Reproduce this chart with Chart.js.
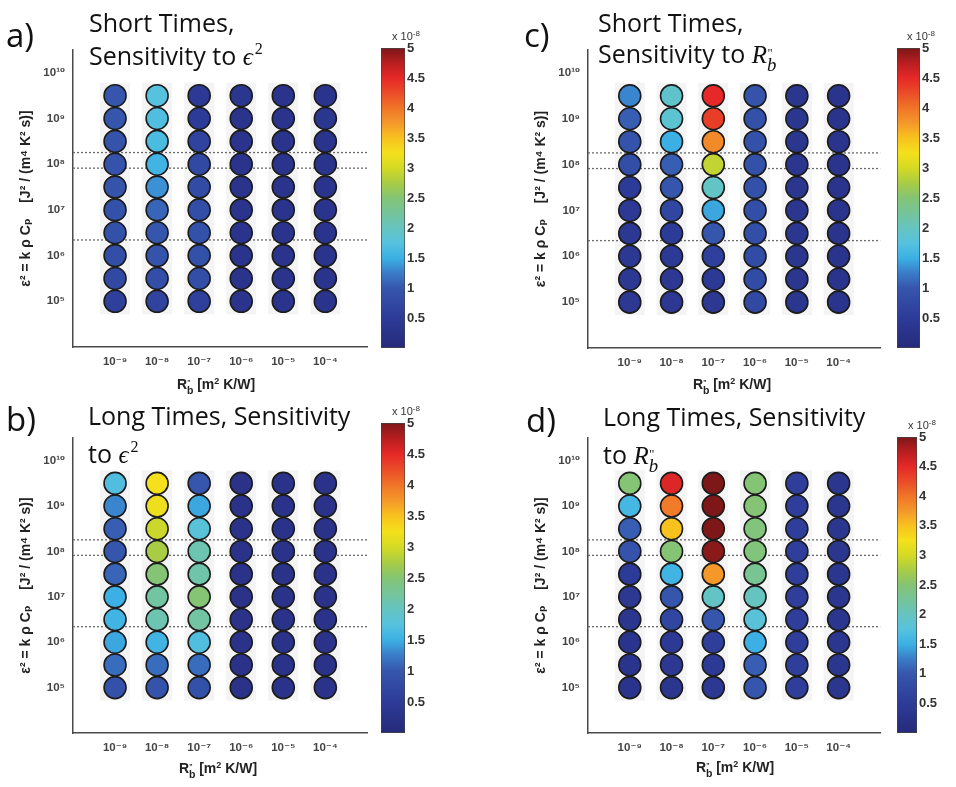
<!DOCTYPE html>
<html>
<head>
<meta charset="utf-8">
<title>Sensitivity maps</title>
<script src="https://cdn.jsdelivr.net/npm/chart.js@4.4.1/dist/chart.umd.min.js"></script>
<style>
  body { margin: 0; background: #fff; }
  #fig { position: relative; width: 956px; height: 787px; overflow: hidden; background: #fff; }
  canvas { position: absolute; }
  .tag { position: absolute; font-family: "Open Sans", sans-serif; font-size: 33px; line-height: 33px; color: #111; }
  .head { position: absolute; font-family: "Open Sans", sans-serif; font-size: 25px; line-height: 25px; color: #111; white-space: nowrap; }
  .m { font-family: "Liberation Serif", "DejaVu Serif", serif; font-style: italic; }
  .sq { font-family: "Liberation Serif", serif; font-size: 16px; position: relative; top: -11px; margin-left: 2px; }
  .rb { display: inline-block; position: relative; width: 0.45em; height: 0.8em; }
  .rb .p { position: absolute; left: 0.05em; top: -0.2em; font-size: 0.5em; font-style: normal; }
  .rb .b { position: absolute; left: 0; top: 0.5em; font-size: 0.75em; }
  .xt { position: absolute; font-family: "Liberation Sans", Arial, sans-serif; font-weight: bold; font-size: 14px; line-height: 14px; color: #222; white-space: nowrap; transform: translateX(-50%); }
  .xt sup { font-size: 9px; vertical-align: 5px; line-height: 0; }
  .mult { position: absolute; font-family: "Liberation Sans", Arial, sans-serif; font-size: 11px; line-height: 11px; color: #333; white-space: nowrap; }
  .mult sup { font-size: 8px; vertical-align: 4px; line-height: 0; }
</style>
</head>
<body>
<div id="fig">
  <canvas id="pa"></canvas>
  <canvas id="pb"></canvas>
  <canvas id="pc"></canvas>
  <canvas id="pd"></canvas>
  <canvas id="cba"></canvas>
  <canvas id="cbb"></canvas>
  <canvas id="cbc"></canvas>
  <canvas id="cbd"></canvas>

  <div class="tag" style="left:6px;top:18px">a)</div>
  <div class="head" style="left:89px;top:10px">Short Times,</div>
  <div class="head" style="left:89px;top:43px">Sensitivity to <span class="m">ϵ</span><span class="sq">2</span></div>

  <div class="tag" style="left:524px;top:18px">c)</div>
  <div class="head" style="left:598px;top:10px">Short Times,</div>
  <div class="head" style="left:598px;top:41px">Sensitivity to <span class="m">R</span><span class="rb m"><span class="p">"</span><span class="b">b</span></span></div>

  <div class="tag" style="left:6px;top:402px">b)</div>
  <div class="head" style="left:88px;top:403px">Long Times, Sensitivity</div>
  <div class="head" style="left:88px;top:441px">to <span class="m">ϵ</span><span class="sq">2</span></div>

  <div class="tag" style="left:526px;top:403px">d)</div>
  <div class="head" style="left:603px;top:404px">Long Times, Sensitivity</div>
  <div class="head" style="left:603px;top:442px">to <span class="m">R</span><span class="rb m"><span class="p">"</span><span class="b">b</span></span></div>

  <div class="xt" style="left:216px;top:377px">R<span class="rb"><span class="p">"</span><span class="b">b</span></span> [m<sup>2</sup> K/W]</div>
  <div class="xt" style="left:732px;top:377px">R<span class="rb"><span class="p">"</span><span class="b">b</span></span> [m<sup>2</sup> K/W]</div>
  <div class="xt" style="left:218px;top:761px">R<span class="rb"><span class="p">"</span><span class="b">b</span></span> [m<sup>2</sup> K/W]</div>
  <div class="xt" style="left:735px;top:760px">R<span class="rb"><span class="p">"</span><span class="b">b</span></span> [m<sup>2</sup> K/W]</div>

  <div class="mult" style="left:392px;top:31px">x 10<sup>-8</sup></div>
  <div class="mult" style="left:907px;top:31px">x 10<sup>-8</sup></div>
  <div class="mult" style="left:392px;top:406px">x 10<sup>-8</sup></div>
  <div class="mult" style="left:908px;top:420px">x 10<sup>-8</sup></div>
</div>

<script>
// grid of the parameter study
const resistances = [1e-9, 1e-8, 1e-7, 1e-6, 1e-5, 1e-4];
const effusivities = [1e5, 3.16e5, 1e6, 3.16e6, 1e7, 3.16e7, 1e8, 3.16e8, 1e9, 3.16e9];
const xRange = [1e-10, 1e-3];
const yRange = [1e4, 3.16e10];
const xTicks = [1e-9, 1e-8, 1e-7, 1e-6, 1e-5, 1e-4];
const yTicks = [1e5, 1e6, 1e7, 1e8, 1e9, 1e10];
const barTicks = [0.5, 1, 1.5, 2, 2.5, 3, 3.5, 4, 4.5, 5];
const dottedLevels = [2.2e6, 8.2e7, 1.8e8];

// sensitivity (x 1e-8), one list per R_b column, from eps^2 = 1e5 upwards
const shortEps = [
  [0.6, 0.75, 0.85, 0.9, 0.9, 0.95, 0.95, 0.95, 1.0, 1.0],
  [0.65, 0.85, 0.95, 1.0, 1.1, 1.35, 1.55, 1.65, 1.7, 1.75],
  [0.6, 0.85, 0.9, 0.9, 0.85, 0.8, 0.75, 0.65, 0.5, 0.45],
  [0.3, 0.3, 0.3, 0.3, 0.3, 0.3, 0.3, 0.3, 0.3, 0.35],
  [0.3, 0.3, 0.3, 0.3, 0.3, 0.3, 0.3, 0.3, 0.3, 0.3],
  [0.3, 0.3, 0.3, 0.3, 0.3, 0.3, 0.3, 0.3, 0.35, 0.3]
];
const longEps = [
  [0.9, 1.15, 1.45, 1.55, 1.5, 1.1, 1.0, 1.05, 1.3, 1.7],
  [0.95, 1.15, 1.55, 2.1, 2.2, 2.5, 2.75, 2.95, 3.2, 3.25],
  [0.9, 1.15, 1.7, 2.2, 2.5, 2.15, 2.1, 1.8, 1.45, 1.0],
  [0.25, 0.25, 0.25, 0.25, 0.25, 0.25, 0.25, 0.25, 0.25, 0.25],
  [0.25, 0.25, 0.25, 0.25, 0.25, 0.25, 0.25, 0.25, 0.25, 0.25],
  [0.25, 0.25, 0.25, 0.25, 0.25, 0.25, 0.25, 0.25, 0.25, 0.25]
];
const shortRb = [
  [0.4, 0.4, 0.4, 0.4, 0.45, 0.5, 0.85, 0.95, 1.05, 1.3],
  [0.4, 0.4, 0.45, 0.5, 0.7, 1.0, 1.05, 1.5, 1.85, 1.9],
  [0.4, 0.45, 0.6, 1.0, 1.45, 1.95, 2.9, 3.85, 4.35, 4.5],
  [0.75, 0.8, 0.8, 0.85, 0.85, 0.9, 0.9, 0.9, 0.9, 0.95],
  [0.35, 0.35, 0.35, 0.35, 0.35, 0.35, 0.35, 0.35, 0.35, 0.35],
  [0.3, 0.3, 0.3, 0.3, 0.3, 0.3, 0.3, 0.3, 0.3, 0.3]
];
const longRb = [
  [0.3, 0.3, 0.3, 0.35, 0.4, 0.5, 0.95, 1.05, 1.6, 2.5],
  [0.35, 0.4, 0.45, 0.7, 1.0, 1.55, 2.5, 3.5, 3.95, 4.55],
  [0.4, 0.45, 0.55, 1.0, 1.95, 3.75, 4.95, 5.0, 5.0, 5.0],
  [1.0, 1.05, 1.5, 1.8, 2.0, 2.3, 2.45, 2.45, 2.5, 2.5],
  [0.55, 0.55, 0.55, 0.55, 0.55, 0.55, 0.55, 0.55, 0.55, 0.55],
  [0.35, 0.35, 0.35, 0.35, 0.35, 0.35, 0.35, 0.35, 0.35, 0.35]
];

const yTitle = 'ε² = k ρ Cₚ    [J² / (m⁴ K² s)]';

// washed-out jet, as it looks in the printed colorbar
const cmap = [
  [0, '#262a7a'], [0.5, '#2d3b98'], [1.0, '#3656ad'], [1.25, '#3a7cc8'],
  [1.5, '#3cb0e4'], [1.75, '#56c2de'], [2.0, '#66c4c0'], [2.5, '#84c474'],
  [2.75, '#a8cc44'], [3.0, '#d4da24'], [3.25, '#f4e01c'], [3.5, '#f8c21e'],
  [3.75, '#f4982a'], [4.0, '#f07428'], [4.25, '#ea4c28'], [4.5, '#e62828'],
  [4.75, '#b81e20'], [5.0, '#7e1818']
];

function hexRgb(h) {
  return [1, 3, 5].map(i => parseInt(h.substr(i, 2), 16));
}

function sensColor(v) {
  v = Math.max(0, Math.min(5, v));
  for (let i = 1; i < cmap.length; i++) {
    if (v <= cmap[i][0]) {
      const t = (v - cmap[i - 1][0]) / (cmap[i][0] - cmap[i - 1][0]);
      const a = hexRgb(cmap[i - 1][1]), b = hexRgb(cmap[i][1]);
      const c = a.map((x, k) => Math.round(x + (b[k] - x) * t));
      return `rgb(${c[0]},${c[1]},${c[2]})`;
    }
  }
  return cmap[cmap.length - 1][1];
}

const supMap = { '-': '⁻', '0': '⁰', '1': '¹', '2': '²', '3': '³', '4': '⁴', '5': '⁵', '6': '⁶', '7': '⁷', '8': '⁸', '9': '⁹' };
function powerLabel(v) {
  const e = String(Math.round(Math.log10(v)));
  return '10' + e.split('').map(c => supMap[c]).join('');
}

const tickFont = { family: 'Liberation Sans, DejaVu Sans, sans-serif', size: 11.5, weight: 'bold' };

// faint grey strips behind each column of circles
const columnStrips = {
  id: 'columnStrips',
  beforeDatasetsDraw(chart) {
    const { ctx, scales: { x, y } } = chart;
    const top = y.getPixelForValue(effusivities[effusivities.length - 1]) - 13;
    const bottom = y.getPixelForValue(effusivities[0]) + 13;
    ctx.save();
    ctx.fillStyle = '#f4f4f4';
    resistances.forEach(r => {
      const cx = x.getPixelForValue(r);
      ctx.fillRect(cx - 15, top, 30, bottom - top);
    });
    ctx.restore();
  }
};

function placeCanvas(id, left, top, w, h) {
  const c = document.getElementById(id);
  c.width = w;
  c.height = h;
  c.style.left = left + 'px';
  c.style.top = top + 'px';
  return c;
}

function drawPanel(p) {
  const canvas = placeCanvas(p.id, p.left, p.top, p.w, p.h);
  const points = [];
  const colors = [];
  p.sens.forEach((col, i) => {
    col.forEach((v, j) => {
      points.push({ x: resistances[i], y: effusivities[j] });
      colors.push(sensColor(v));
    });
  });

  const datasets = [{
    type: 'scatter',
    data: points,
    backgroundColor: colors,
    borderColor: '#1c1c1c',
    borderWidth: 1.6,
    pointRadius: 11,
    pointHoverRadius: 11,
    order: 0
  }];
  dottedLevels.forEach(level => {
    datasets.push({
      type: 'line',
      data: [{ x: xRange[0], y: level }, { x: xRange[1], y: level }],
      borderColor: '#6a6a6a',
      borderWidth: 1.3,
      borderDash: [2, 2],
      pointRadius: 0,
      fill: false,
      order: 1
    });
  });

  new Chart(canvas, {
    type: 'scatter',
    data: { datasets },
    plugins: [columnStrips],
    options: {
      responsive: false,
      animation: false,
      layout: { padding: { left: 0, top: p.padTop, right: 3, bottom: 0 } },
      plugins: { legend: { display: false }, tooltip: { enabled: false } },
      scales: {
        x: {
          type: 'logarithmic',
          min: xRange[0],
          max: xRange[1],
          afterBuildTicks: s => { s.ticks = xTicks.map(v => ({ value: v })); },
          afterFit: s => { s.height = p.xH; },
          grid: { display: false, drawTicks: false },
          border: { display: true, color: '#4a4a4a', width: 1.5 },
          ticks: { callback: powerLabel, padding: 8, autoSkip: false, maxRotation: 0, color: '#444', font: tickFont }
        },
        y: {
          type: 'logarithmic',
          min: yRange[0],
          max: yRange[1],
          afterBuildTicks: s => { s.ticks = yTicks.map(v => ({ value: v })); },
          afterFit: s => { s.width = 73; },
          grid: { display: false, drawTicks: false },
          border: { display: true, color: '#4a4a4a', width: 1.5 },
          ticks: { callback: powerLabel, padding: 8, autoSkip: false, color: '#444', font: tickFont },
          title: {
            display: true,
            text: yTitle,
            color: '#222',
            font: { family: 'Liberation Sans, DejaVu Sans, sans-serif', size: 14, weight: 'bold' },
            padding: { top: 18, bottom: 0 }
          }
        }
      }
    }
  });
}

function drawColorbar(b) {
  const canvas = placeCanvas(b.id, b.left, b.top, b.w, b.h);
  new Chart(canvas, {
    type: 'bar',
    data: {
      labels: [''],
      datasets: [{
        data: [[0, 5]],
        backgroundColor: ctx => {
          const area = ctx.chart.chartArea;
          if (!area) return null;
          const g = ctx.chart.ctx.createLinearGradient(0, area.bottom, 0, area.top);
          cmap.forEach(([v, c]) => g.addColorStop(v / 5, c));
          return g;
        },
        borderColor: '#444',
        borderWidth: 1,
        borderSkipped: false,
        barPercentage: 1,
        categoryPercentage: 1
      }]
    },
    options: {
      responsive: false,
      animation: false,
      layout: { padding: { left: 0, top: 10, right: 0, bottom: 10 } },
      plugins: { legend: { display: false }, tooltip: { enabled: false } },
      scales: {
        x: { display: false },
        y: {
          position: 'right',
          min: 0,
          max: 5,
          afterBuildTicks: s => { s.ticks = barTicks.map(v => ({ value: v })); },
          afterFit: s => { s.width = 28; },
          grid: { display: false, drawTicks: false },
          border: { display: false },
          ticks: {
            padding: 2,
            autoSkip: false,
            callback: v => String(v),
            color: '#333',
            font: { family: 'Liberation Sans, Arial, sans-serif', size: 13, weight: 'bold' }
          }
        }
      }
    }
  });
}

// the x scale keeps ~13px free on its right, so the canvases reach past the axis end
[
  { id: 'pa', sens: shortEps, left: 0, top: 0, w: 380, h: 400, padTop: 50, xH: 53 },
  { id: 'pc', sens: shortRb, left: 515, top: 0, w: 378, h: 400, padTop: 50, xH: 52 },
  { id: 'pb', sens: longEps, left: 0, top: 388, w: 380, h: 400, padTop: 50, xH: 55 },
  { id: 'pd', sens: longRb, left: 515, top: 388, w: 378, h: 400, padTop: 50, xH: 55 }
].forEach(drawPanel);

[
  { id: 'cba', left: 381, top: 38, w: 52, h: 320 },
  { id: 'cbc', left: 897, top: 38, w: 51, h: 320 },
  { id: 'cbb', left: 381, top: 413, w: 52, h: 330 },
  { id: 'cbd', left: 897, top: 427, w: 48, h: 316 }
].forEach(drawColorbar);
</script>
</body>
</html>
